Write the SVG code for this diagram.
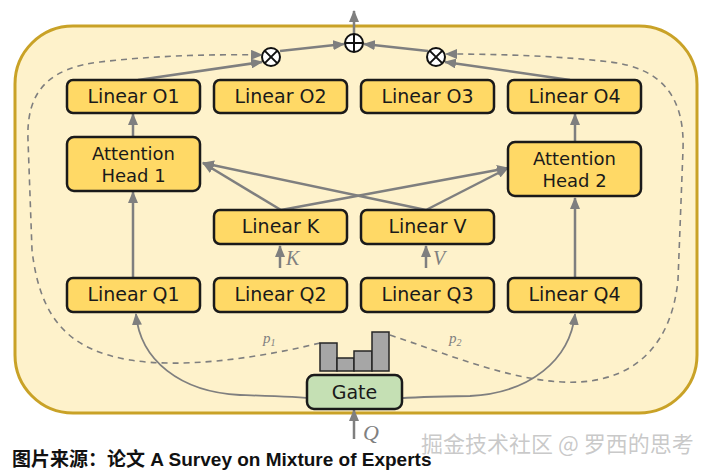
<svg xmlns="http://www.w3.org/2000/svg" width="709" height="471" viewBox="0 0 709 471">
<style>
.box{fill:#ffd966;stroke:#1a1a1a;stroke-width:2.5}
.gate{fill:#c5e0b4;stroke:#1a1a1a;stroke-width:2.5}
.bar{fill:#a6a6a6;stroke:#262626;stroke-width:1.5}
.lbl{font-family:"DejaVu Sans",sans-serif;font-size:19px;fill:#1a1a1a;text-anchor:middle}
.lbl2{font-family:"DejaVu Sans",sans-serif;font-size:18px;fill:#1a1a1a;text-anchor:middle}
.ar{fill:none;stroke:#7f7f7f;stroke-width:2.5}
.thin{fill:none;stroke:#7f7f7f;stroke-width:1.8}
.dash{fill:none;stroke:#7f7f7f;stroke-width:1.6;stroke-dasharray:6 5}
.math{font-family:"Liberation Serif",serif;font-style:italic;fill:#808080}
.op{fill:#ffffff;stroke:#111;stroke-width:2}
</style>
<defs>
<marker id="ah" markerUnits="userSpaceOnUse" markerWidth="12" markerHeight="10" refX="11" refY="5" orient="auto">
<path d="M0,0 L12,5 L0,10 z" fill="#7f7f7f"/>
</marker>
</defs>
<rect x="15" y="26" width="682" height="387" rx="58" fill="#fef2cb" stroke="#c9a227" stroke-width="3"/>
<g id="connectors">
<path class="ar" d="M354,34 L354,11" marker-end="url(#ah)"/>
<path class="ar" d="M138,80 L262,62" marker-end="url(#ah)"/>
<path class="ar" d="M570,80 L445,62" marker-end="url(#ah)"/>
<path class="ar" d="M280,51 L344,44" marker-end="url(#ah)"/>
<path class="ar" d="M428,51 L364,44" marker-end="url(#ah)"/>
<path class="ar" d="M133,137 L133,114" marker-end="url(#ah)"/>
<path class="ar" d="M575,142 L575,114" marker-end="url(#ah)"/>
<path class="ar" d="M133,278 L133,192" marker-end="url(#ah)"/>
<path class="ar" d="M575,278 L575,198" marker-end="url(#ah)"/>
<path class="ar" d="M281,210 L203,163" marker-end="url(#ah)"/>
<path class="ar" d="M281,210 L508,168" marker-end="url(#ah)"/>
<path class="ar" d="M426,210 L203,163" marker-end="url(#ah)"/>
<path class="ar" d="M426,210 L508,168" marker-end="url(#ah)"/>
<path class="ar" d="M280,268 L280,246" marker-end="url(#ah)"/>
<path class="ar" d="M426,268 L426,246" marker-end="url(#ah)"/>
<path class="ar" d="M354,439 L354,410" marker-end="url(#ah)"/>
<path class="thin" d="M354,408 C340,398 300,397 240,395 C180,392 140,360 136,314" marker-end="url(#ah)"/>
<path class="thin" d="M354,408 C368,398 410,397 470,396 C530,393 570,360 575,314" marker-end="url(#ah)"/>
<path class="dash" d="M320,343 C250,360 180,368 130,360 C70,350 40,320 32,250 L28,140 C26,90 50,68 100,62 C150,56 210,54 262,55" marker-end="url(#ah)"/>
<path class="dash" d="M390,335 C450,355 520,385 580,382 C640,378 672,340 678,280 L683,150 C685,95 660,68 610,62 C560,56 500,54 446,54" marker-end="url(#ah)"/>
</g>
<g id="sum">
<circle class="op" cx="354" cy="43" r="9"/>
<path d="M345,43 H363 M354,34 V52" stroke="#111" stroke-width="2"/>
</g>
<g id="mul1">
<circle class="op" cx="271" cy="57" r="9"/>
<path d="M264.6,50.6 L277.4,63.4 M277.4,50.6 L264.6,63.4" stroke="#111" stroke-width="2"/>
</g>
<g id="mul2">
<circle class="op" cx="436" cy="57" r="9"/>
<path d="M429.6,50.6 L442.4,63.4 M442.4,50.6 L429.6,63.4" stroke="#111" stroke-width="2"/>
</g>
<g id="linearO1"><rect class="box" x="67" y="80" width="133" height="33" rx="6"/><text class="lbl" x="133.5" y="103">Linear O1</text></g>
<g id="linearO2"><rect class="box" x="214" y="80" width="133" height="33" rx="6"/><text class="lbl" x="280.5" y="103">Linear O2</text></g>
<g id="linearO3"><rect class="box" x="361" y="80" width="133" height="33" rx="6"/><text class="lbl" x="427.5" y="103">Linear O3</text></g>
<g id="linearO4"><rect class="box" x="508" y="80" width="133" height="33" rx="6"/><text class="lbl" x="574.5" y="103">Linear O4</text></g>
<g id="head1"><rect class="box" x="67" y="137" width="133" height="54" rx="7"/><text class="lbl2" x="133.5" y="160">Attention</text><text class="lbl2" x="133.5" y="182">Head 1</text></g>
<g id="head2"><rect class="box" x="508" y="142" width="133" height="54" rx="7"/><text class="lbl2" x="574.5" y="165">Attention</text><text class="lbl2" x="574.5" y="187">Head 2</text></g>
<g id="linearK"><rect class="box" x="214" y="210" width="133" height="34" rx="6"/><text class="lbl" x="280.5" y="233">Linear K</text></g>
<g id="linearV"><rect class="box" x="361" y="210" width="133" height="34" rx="6"/><text class="lbl" x="427.5" y="233">Linear V</text></g>
<g id="linearQ1"><rect class="box" x="67" y="278" width="133" height="34" rx="6"/><text class="lbl" x="133.5" y="301">Linear Q1</text></g>
<g id="linearQ2"><rect class="box" x="214" y="278" width="133" height="34" rx="6"/><text class="lbl" x="280.5" y="301">Linear Q2</text></g>
<g id="linearQ3"><rect class="box" x="361" y="278" width="133" height="34" rx="6"/><text class="lbl" x="427.5" y="301">Linear Q3</text></g>
<g id="linearQ4"><rect class="box" x="508" y="278" width="133" height="34" rx="6"/><text class="lbl" x="574.5" y="301">Linear Q4</text></g>
<g id="bars">
<rect class="bar" x="320" y="343" width="17" height="28"/>
<rect class="bar" x="337" y="358" width="17" height="13"/>
<rect class="bar" x="354" y="351" width="18" height="20"/>
<rect class="bar" x="372" y="332" width="17" height="39"/>
</g>
<g id="gate"><rect class="gate" x="307" y="375" width="95" height="34" rx="7"/><text class="lbl" x="354.5" y="399">Gate</text></g>
<text class="math" x="286" y="265" font-size="20">K</text>
<text class="math" x="433" y="265" font-size="20">V</text>
<text class="math" x="363" y="440" font-size="22">Q</text>
<text class="math" x="263" y="343" font-size="15">p<tspan font-size="10" dy="3">1</tspan></text>
<text class="math" x="449" y="343" font-size="15">p<tspan font-size="10" dy="3">2</tspan></text>
<text x="12" y="466" font-family="Liberation Sans,'Noto Sans CJK SC',sans-serif" font-weight="bold" font-size="19" fill="#111">图片来源：论文 A Survey on Mixture of Experts</text>
<text x="421" y="452" font-family="'Noto Sans CJK SC',sans-serif" font-size="22" fill="#bfbfbf" fill-opacity="0.85">掘金技术社区 @ 罗西的思考</text>
</svg>
